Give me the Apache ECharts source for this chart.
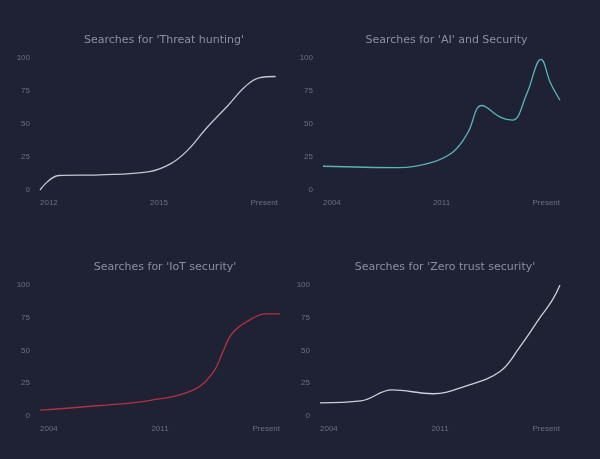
<!DOCTYPE html>
<html>
<head>
<meta charset="utf-8">
<script src="https://cdn.jsdelivr.net/npm/echarts@6/dist/echarts.min.js"></script>
<style>
  html, body { margin: 0; padding: 0; background: #1e2234; }
  #main { width: 600px; height: 459px; }
</style>
</head>
<body>
<div id="main"></div>
<script>
// 四个小图的标题
var titles = [
  "Searches for 'Threat hunting'",
  "Searches for 'AI' and Security",
  "Searches for 'IoT security'",
  "Searches for 'Zero trust security'"
]

// 横轴刻度（起点、中间、现在）
var xLabels = [
  ['2012', '2015', 'Present'],
  ['2004', '2011', 'Present'],
  ['2004', '2011', 'Present'],
  ['2004', '2011', 'Present']
]

// 各图数据 [时间位置(0-100), 搜索热度]
var threatHunting = [[0, 0], [8, 11], [25, 11.5], [46, 14], [55, 20], [62, 30], [70, 47], [79, 64], [86, 78], [92, 85], [99, 86]]
var aiSecurity = [[0, 18], [32, 17], [46, 21], [55, 29], [61, 43], [67, 64], [75, 55], [80, 53], [86, 73], [92, 99], [96, 81], [100, 68]]
var iotSecurity = [[0, 4.5], [25, 8], [46, 12], [64, 20], [72, 33], [76, 48], [80, 63], [87, 73], [94, 78], [100, 78]]
var zeroTrust = [[0, 10], [17, 11.5], [30, 20], [47, 17], [61, 23], [75, 34], [83, 52], [92, 76], [97, 89], [100, 100]]

var seriesData = [threatHunting, aiSecurity, iotSecurity, zeroTrust]
var lineColors = ['#c4c7d2', '#5ab3b8', '#b3323f', '#cdd0d8']

// 网格位置
var grids = [
  { left: 40, top: 58, width: 238, height: 132 },
  { left: 323, top: 58, width: 237, height: 132 },
  { left: 40, top: 285, width: 240, height: 131 },
  { left: 320, top: 285, width: 240, height: 131 }
]

var titleOpts = [], xAxes = [], yAxes = [], series = []
grids.forEach(function (g, i) {
  titleOpts.push({
    text: titles[i],
    left: g.left + g.width / 2,
    top: g.top - 28,
    textAlign: 'center',
    textStyle: { color: '#8a90a1', fontSize: 11, fontWeight: 'normal', fontFamily: 'DejaVu Sans' }
  })
  xAxes.push({
    gridIndex: i, type: 'value', min: 0, max: 100, interval: 50,
    axisLine: { show: false }, axisTick: { show: false }, splitLine: { show: false },
    axisLabel: {
      color: '#6a7082', fontSize: 8, margin: 9,
      alignMinLabel: 'left', alignMaxLabel: 'right',
      formatter: function (v) { return xLabels[i][v / 50] }
    }
  })
  yAxes.push({
    gridIndex: i, type: 'value', min: 0, max: 100, interval: 25,
    axisLine: { show: false }, axisTick: { show: false }, splitLine: { show: false },
    axisLabel: { color: '#6a7082', fontSize: 8, margin: 10 }
  })
  series.push({
    type: 'line', xAxisIndex: i, yAxisIndex: i,
    data: seriesData[i], smooth: 0.4, symbol: 'none',
    lineStyle: { color: lineColors[i], width: 1.3 }
  })
})

var myChart = echarts.init(document.getElementById('main'))
myChart.setOption({
  backgroundColor: '#1e2234',
  animation: false,
  title: titleOpts,
  grid: grids,
  xAxis: xAxes,
  yAxis: yAxes,
  series: series
})
</script>
</body>
</html>
